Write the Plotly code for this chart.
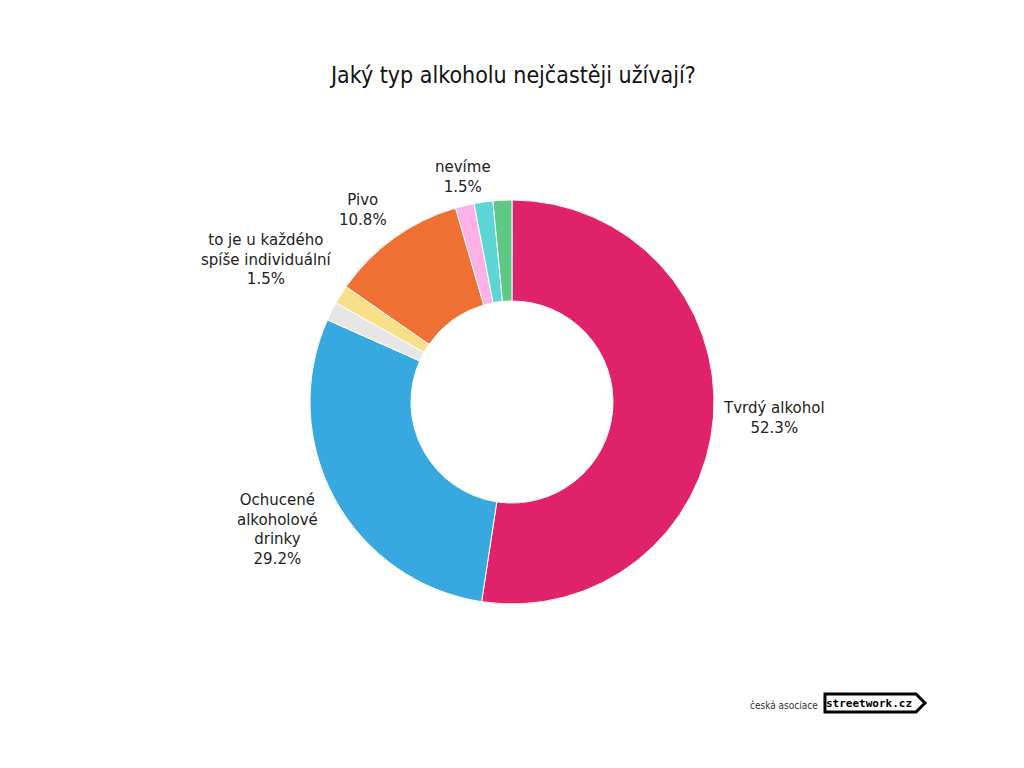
import numpy as np
import plotly.graph_objects as go

# ---- data ----
categories = ["Tvrdý alkohol", "Ochucené alkoholové drinky", "jiné",
              "to je u každého spíše individuální", "Pivo", "nevíme",
              "víno", "ostatní"]
values = [52.3, 29.2, 1.5, 1.5, 10.8, 1.5, 1.5, 1.5]
label_text = ["Tvrdý alkohol<br>52.3%", "Ochucené<br>alkoholové<br>drinky<br>29.2%", "",
              "to je u každého<br>spíše individuální<br>1.5%", "Pivo<br>10.8%",
              "nevíme<br>1.5%", "", ""]
colors = ["#E0226A", "#38A9E0", "#E6E6E6", "#F8E08A", "#EE7032",
          "#FEB1E6", "#5ED5D5", "#5EC985"]

W, H = 1024, 768
CX, CY, R = 512, 402, 202

fig = go.Figure()
fig.add_trace(go.Pie(
    labels=categories, values=values, sort=False, direction="clockwise",
    rotation=0, hole=0.5, textinfo="none", hoverinfo="label+percent",
    marker=dict(colors=colors, line=dict(color="white", width=1)),
    domain=dict(x=[(CX - R) / W, (CX + R) / W], y=[(H - CY - R) / H, (H - CY + R) / H]),
    showlegend=False,
))

# label annotations placed from slice mid-angles
vals = np.array(values)
frac = vals / vals.sum()
mid = (np.cumsum(frac) - frac / 2) * 2 * np.pi
RL = 210
LBL_FONT = dict(family="DejaVu Sans, sans-serif", size=15, color="#222222")
annotations = []
for t, th in zip(label_text, mid):
    if not t:
        continue
    s, c = np.sin(th), np.cos(th)
    px = CX + RL * s
    py = CY - RL * c
    xa = "left" if s > 0.3 else ("right" if s < -0.3 else "center")
    if c > 0.5:
        ya = "bottom"
    elif c < -0.3:
        ya = "top"
        py -= 14
        px -= 8 * np.sign(-s)
    else:
        ya = "middle"
    annotations.append(dict(x=px / W, y=1 - py / H, xref="paper", yref="paper",
                            text=t, showarrow=False, xanchor=xa, yanchor=ya,
                            align="center", font=LBL_FONT))

# title
annotations.append(dict(x=0.5, y=1 - 75 / H, xref="paper", yref="paper",
                        text="Jaký typ alkoholu nejčastěji užívají?", showarrow=False,
                        xanchor="center", yanchor="middle",
                        font=dict(family="DejaVu Sans Condensed, DejaVu Sans, sans-serif",
                                  size=23, color="#111111")))

# logo
annotations.append(dict(x=820 / W, y=1 - 705 / H, xref="paper", yref="paper",
                        text="česká asociace", showarrow=False, xanchor="right", yanchor="middle",
                        font=dict(family="DejaVu Sans Condensed, sans-serif", size=10, color="#333333")))
annotations.append(dict(x=869 / W, y=1 - 703 / H, xref="paper", yref="paper",
                        text="<b>streetwork.cz</b>", showarrow=False, xanchor="center", yanchor="middle",
                        font=dict(family="DejaVu Sans Mono, monospace", size=11, color="#000000")))


def P(x, y):
    return f"{x / W:.5f},{1 - y / H:.5f}"


logo_path = ("M " + P(825, 694) + " L " + P(916, 694) + " L " + P(925, 703) +
             " L " + P(916, 712) + " L " + P(825, 712) + " Z")
shapes = [dict(type="path", xref="paper", yref="paper", path=logo_path,
               line=dict(color="black", width=3), fillcolor="white")]

fig.update_layout(
    width=W, height=H, margin=dict(l=0, r=0, t=0, b=0),
    paper_bgcolor="white", plot_bgcolor="white",
    annotations=annotations, shapes=shapes,
)

fig.write_html("out.html")
